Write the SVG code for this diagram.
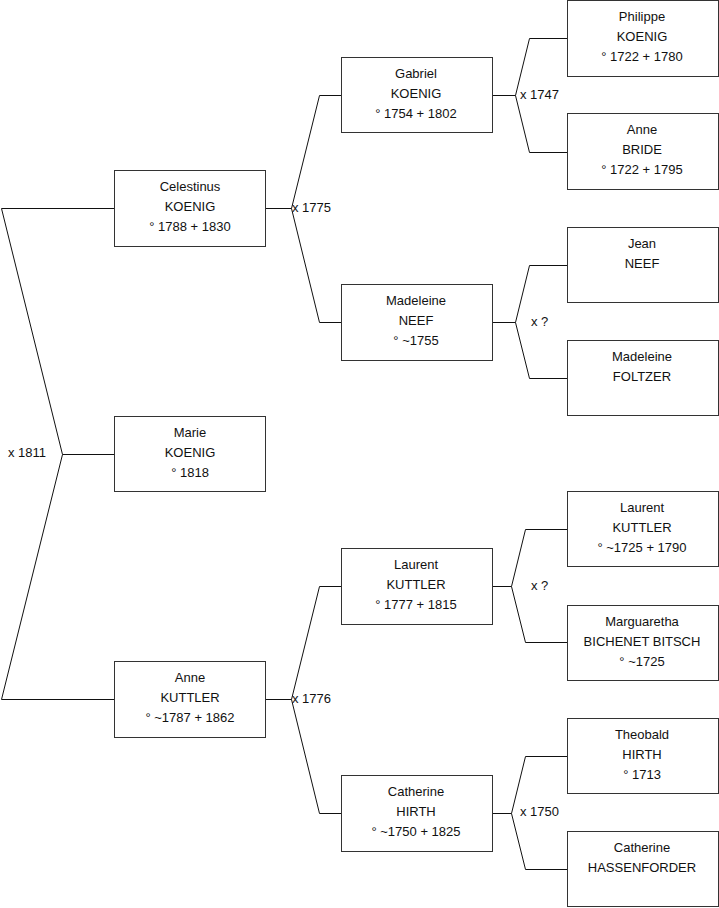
<svg xmlns="http://www.w3.org/2000/svg" width="719" height="908" viewBox="0 0 719 908">
<style>
.box{fill:#fff;stroke:#333;stroke-width:1}
.t{font-family:"Liberation Sans",Arial,sans-serif;font-size:13px;fill:#111;text-anchor:middle}
.l{font-family:"Liberation Sans",Arial,sans-serif;font-size:13px;fill:#111}
.c{fill:none;stroke:#111;stroke-width:1}
</style>
<rect width="719" height="908" fill="#fff"/>
<g id="connectors">
<polyline class="c" points="114,208.5 1.5,208.5 62.5,454.5 1.5,699.5 114,699.5"/>
<line class="c" x1="62.5" y1="454.5" x2="114" y2="454.5"/>
<polyline class="c" points="341,95.5 319.5,95.5 291.5,208.5 319.5,322.5 341,322.5"/>
<line class="c" x1="265" y1="208.5" x2="291.5" y2="208.5"/>
<polyline class="c" points="341,586.5 319.5,586.5 291.5,699.5 319.5,813.5 341,813.5"/>
<line class="c" x1="265" y1="699.5" x2="291.5" y2="699.5"/>
<polyline class="c" points="567,38.5 529.5,38.5 515.5,95.5 529.5,152.5 567,152.5"/>
<line class="c" x1="492" y1="95.5" x2="515.5" y2="95.5"/>
<polyline class="c" points="567,265.5 529.5,265.5 515.5,322.5 529.5,378.5 567,378.5"/>
<line class="c" x1="492" y1="322.5" x2="515.5" y2="322.5"/>
<polyline class="c" points="567,529.5 525.5,529.5 511.5,586.5 525.5,642.5 567,642.5"/>
<line class="c" x1="492" y1="586.5" x2="511.5" y2="586.5"/>
<polyline class="c" points="567,756.5 525.5,756.5 511.5,813.5 525.5,869.5 567,869.5"/>
<line class="c" x1="492" y1="813.5" x2="511.5" y2="813.5"/>
<text class="l" x="8" y="457">x 1811</text>
<text class="l" x="292" y="212">x 1775</text>
<text class="l" x="292" y="703">x 1776</text>
<text class="l" x="520" y="99">x 1747</text>
<text class="l" x="531" y="326">x ?</text>
<text class="l" x="531" y="590">x ?</text>
<text class="l" x="520" y="816">x 1750</text>
</g>
<g id="celestinus"><rect class="box" x="114.5" y="170.5" width="151" height="76"/>
<text class="t" x="190" y="191">Celestinus</text><text class="t" x="190" y="211">KOENIG</text><text class="t" x="190" y="231">° 1788 + 1830</text></g>
<g id="marie"><rect class="box" x="114.5" y="416.5" width="151" height="75"/>
<text class="t" x="190" y="437">Marie</text><text class="t" x="190" y="457">KOENIG</text><text class="t" x="190" y="477">° 1818</text></g>
<g id="anne-kuttler"><rect class="box" x="114.5" y="661.5" width="151" height="76"/>
<text class="t" x="190" y="682">Anne</text><text class="t" x="190" y="702">KUTTLER</text><text class="t" x="190" y="722">° ~1787 + 1862</text></g>
<g id="gabriel"><rect class="box" x="341.5" y="57.5" width="151" height="75"/>
<text class="t" x="416" y="78">Gabriel</text><text class="t" x="416" y="98">KOENIG</text><text class="t" x="416" y="118">° 1754 + 1802</text></g>
<g id="madeleine-neef"><rect class="box" x="341.5" y="284.5" width="151" height="76"/>
<text class="t" x="416" y="305">Madeleine</text><text class="t" x="416" y="325">NEEF</text><text class="t" x="416" y="345">° ~1755</text></g>
<g id="laurent-kuttler-1777"><rect class="box" x="341.5" y="548.5" width="151" height="76"/>
<text class="t" x="416" y="569">Laurent</text><text class="t" x="416" y="589">KUTTLER</text><text class="t" x="416" y="609">° 1777 + 1815</text></g>
<g id="catherine-hirth"><rect class="box" x="341.5" y="775.5" width="151" height="76"/>
<text class="t" x="416" y="796">Catherine</text><text class="t" x="416" y="816">HIRTH</text><text class="t" x="416" y="836">° ~1750 + 1825</text></g>
<g id="philippe"><rect class="box" x="567.5" y="0.5" width="151" height="76"/>
<text class="t" x="642" y="21">Philippe</text><text class="t" x="642" y="41">KOENIG</text><text class="t" x="642" y="61">° 1722 + 1780</text></g>
<g id="anne-bride"><rect class="box" x="567.5" y="113.5" width="151" height="76"/>
<text class="t" x="642" y="134">Anne</text><text class="t" x="642" y="154">BRIDE</text><text class="t" x="642" y="174">° 1722 + 1795</text></g>
<g id="jean"><rect class="box" x="567.5" y="227.5" width="151" height="75"/>
<text class="t" x="642" y="248">Jean</text><text class="t" x="642" y="268">NEEF</text></g>
<g id="madeleine-foltzer"><rect class="box" x="567.5" y="340.5" width="151" height="75"/>
<text class="t" x="642" y="361">Madeleine</text><text class="t" x="642" y="381">FOLTZER</text></g>
<g id="laurent-kuttler-1725"><rect class="box" x="567.5" y="491.5" width="151" height="75"/>
<text class="t" x="642" y="512">Laurent</text><text class="t" x="642" y="532">KUTTLER</text><text class="t" x="642" y="552">° ~1725 + 1790</text></g>
<g id="marguaretha"><rect class="box" x="567.5" y="605.5" width="151" height="75"/>
<text class="t" x="642" y="626">Marguaretha</text><text class="t" x="642" y="646">BICHENET BITSCH</text><text class="t" x="642" y="666">° ~1725</text></g>
<g id="theobald"><rect class="box" x="567.5" y="718.5" width="151" height="75"/>
<text class="t" x="642" y="739">Theobald</text><text class="t" x="642" y="759">HIRTH</text><text class="t" x="642" y="779">° 1713</text></g>
<g id="catherine-hassenforder"><rect class="box" x="567.5" y="831.5" width="151" height="75"/>
<text class="t" x="642" y="852">Catherine</text><text class="t" x="642" y="872">HASSENFORDER</text></g>
</svg>
